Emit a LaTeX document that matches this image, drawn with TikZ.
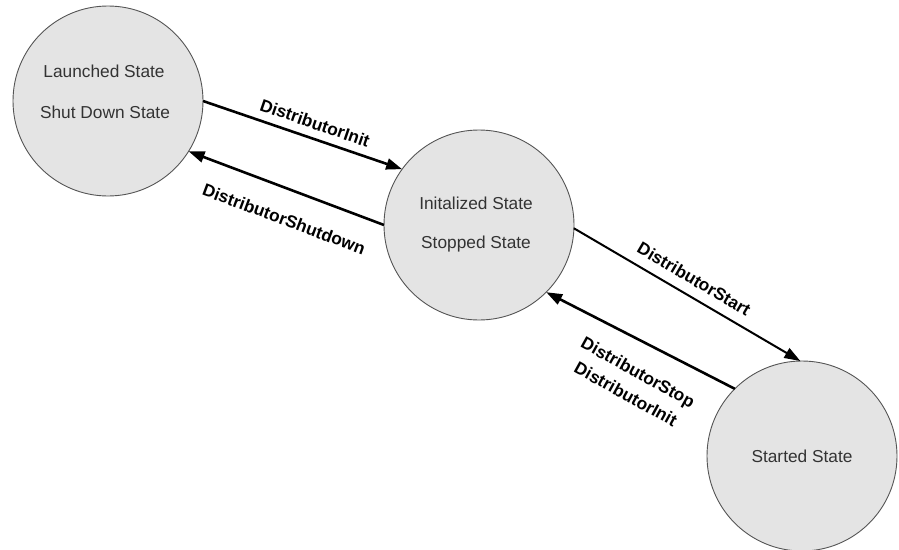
\documentclass[tikz,border=0pt]{standalone}
\usepackage{fontspec}
\setmainfont{Liberation Sans}
\usetikzlibrary{arrows.meta}
\definecolor{stfill}{HTML}{E4E4E4}
\definecolor{stdraw}{HTML}{555555}
\definecolor{sttext}{HTML}{333333}
\begin{document}
\begin{tikzpicture}[x=1pt,y=-1pt,
  state/.style={circle, draw=stdraw, fill=stfill, line width=0.9pt, minimum size=190pt, inner sep=0pt, outer sep=0pt},
  stxt/.style={text=sttext, font=\fontsize{17.3}{20}\selectfont, inner sep=0pt},
  lbl/.style={font=\fontsize{17.3}{25}\selectfont\bfseries, inner sep=0pt, align=center},
  arr/.style={line width=2.6pt, -{Triangle[length=16pt,width=11pt]}},
  arrthin/.style={line width=2pt, -{Triangle[length=16pt,width=11pt]}}
]
\useasboundingbox (0,0) rectangle (899,549);
\node[state] (launched) at (108,101) {};
\node[state] (init) at (479,225) {};
\node[state] (started) at (802,456) {};

\node[stxt] (t1) at (104,71) {Launched State};
\node[stxt] (t2) at (105,112) {Shut Down State};
\node[stxt] (t3) at (476,203) {Initalized State};
\node[stxt] (t4) at (476,244) {Stopped State};
\node[stxt] (t5) at (802,456) {Started State};

\draw[arr] (launched.0) -- (init.144);
\draw[arr] (init.180) -- (launched.-32);
\draw[arrthin] (init.-2) -- (started.91);
\draw[arr] (started.135) -- (init.-45);

\node[lbl, rotate=-19] (l1) at (315,123) {DistributorInit};
\node[lbl, rotate=-20.5] (l2) at (284,219) {DistributorShutdown};
\node[lbl, rotate=-30.4] (l3) at (694,279) {DistributorStart};
\node[lbl, rotate=-29] (l4) at (632,383) {DistributorStop\\DistributorInit};
\end{tikzpicture}
\end{document}
